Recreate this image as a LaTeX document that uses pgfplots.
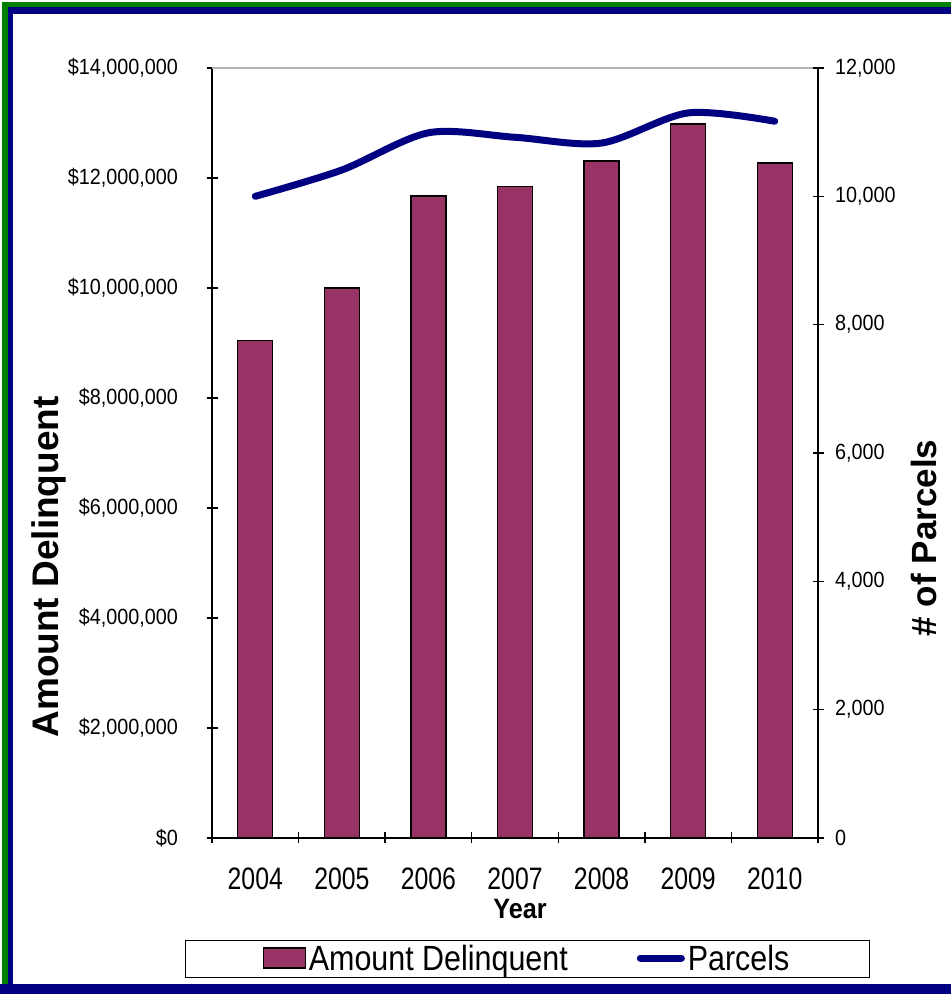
\documentclass[border=0pt]{standalone}
\usepackage{pgfplots}
\usepackage{pgfplotstable}
\pgfplotsset{compat=1.18}
\usepackage{fontspec}
\setmainfont{Liberation Sans}
\newfontfamily\tickfont[FakeStretch=0.9]{Liberation Sans}
\newfontfamily\yearfont[FakeStretch=0.8]{Liberation Sans}
\newfontfamily\legfont[FakeStretch=0.87]{Liberation Sans}
\newfontfamily\yearbold[FakeStretch=0.9]{Liberation Sans Bold}
\definecolor{barcol}{HTML}{993366}
\definecolor{navy}{HTML}{000080}
\definecolor{framegreen}{HTML}{008000}

\pgfplotstableread{
x amount parcels
0 9050000 10000
1 10000000 10410
2 11670000 10990
3 11850000 10920
4 12310000 10830
5 12980000 11300
6 12270000 11170
}\datatable

\begin{document}
\begin{tikzpicture}[x=1bp,y=1bp]
\useasboundingbox (0,0) rectangle (951,994);
\fill[white] (0,0) rectangle (951,994);
\begin{axis}[
  at={(212bp,156bp)}, anchor=south west,
  scale only axis, width=606bp, height=770bp,
  xmin=-0.5, xmax=6.5, ymin=0, ymax=14000000,
  axis x line*=bottom, axis y line*=left,
  axis line style={black, line width=1.3bp},
  tick align=center,
  major tick length=11bp, minor tick length=11bp,
  every tick/.style={black, line width=1.3bp},
  xtick={0,...,6}, xticklabels={2004,2005,2006,2007,2008,2009,2010},
  major x tick style={draw=none},
  minor xtick={-0.5,0.5,1.5,2.5,3.5,4.5,5.5,6.5},
  scaled y ticks=false,
  ytick={0,2000000,4000000,6000000,8000000,10000000,12000000,14000000},
  yticklabels={{\$0},{\$2,000,000},{\$4,000,000},{\$6,000,000},{\$8,000,000},{\$10,000,000},{\$12,000,000},{\$14,000,000}},
  yticklabel style={font=\tickfont\fontsize{22bp}{24bp}\selectfont, xshift=-25bp},
  xticklabel style={font=\yearfont\fontsize{31bp}{34bp}\selectfont, yshift=-21bp},
  xlabel={Year},
  xlabel style={font=\yearbold\fontsize{28bp}{30bp}\selectfont, at={(axis description cs:0.5,0)}, anchor=center, xshift=5bp, yshift=-71bp},
  ylabel={Amount Delinquent},
  ylabel style={font=\bfseries\fontsize{37bp}{40bp}\selectfont, at={(axis description cs:-0.269,0.352)}, anchor=center},
  legend columns=2,
  legend style={at={(axis description cs:-0.0446,-0.1325)}, anchor=north west,
    draw=black, line width=1.2bp, inner xsep=77bp, inner ysep=4bp,
    font=\legfont\fontsize{35bp}{36bp}\selectfont,
    nodes={inner ysep=1bp, inner xsep=3bp},
    /tikz/every even column/.append style={column sep=66bp}},
]
\addplot[ybar, bar width=35bp, fill=barcol, draw=black, line width=1.3bp,
  legend image code/.code={\fill[draw=black, fill=barcol, line width=1.3bp] (0bp,-9bp) rectangle (42bp,11bp);}]
  table[x=x, y=amount]{\datatable};
\addlegendentry{Amount Delinquent}
\addlegendimage{legend image code/.code={\draw[navy, line width=7bp, line cap=round] (3bp,1bp) -- (44bp,1bp);}}
\addlegendentry{Parcels}
\draw[gray!60, line width=1.3bp] (rel axis cs:0,1) -- (rel axis cs:1,1);
\end{axis}
\begin{axis}[
  at={(212bp,156bp)}, anchor=south west,
  scale only axis, width=606bp, height=770bp,
  xmin=-0.5, xmax=6.5, ymin=0, ymax=12000,
  axis y line*=right, axis x line=none,
  axis line style={black, line width=1.3bp},
  tick align=center, major tick length=11bp,
  every tick/.style={black, line width=1.3bp},
  scaled y ticks=false,
  ytick={0,2000,4000,6000,8000,10000,12000},
  yticklabels={0,{2,000},{4,000},{6,000},{8,000},{10,000},{12,000}},
  yticklabel style={font=\tickfont\fontsize{22bp}{24bp}\selectfont, xshift=8bp},
  ylabel={\# of Parcels},
  ylabel style={font=\bfseries\fontsize{35bp}{38bp}\selectfont, at={(axis description cs:1.175,0.3896)}, anchor=center},
]
\addplot[navy, line width=7bp, smooth, line cap=round, no marks] table[x=x, y=parcels]{\datatable};
\end{axis}
% frame
\fill[framegreen] (2,0) rectangle (8,992);
\fill[framegreen] (2,987) rectangle (951,992);
\fill[navy] (8,0) rectangle (13,987);
\fill[navy] (8,980) rectangle (951,987);
\fill[navy] (0,0) rectangle (951,10);
\end{tikzpicture}
\end{document}
